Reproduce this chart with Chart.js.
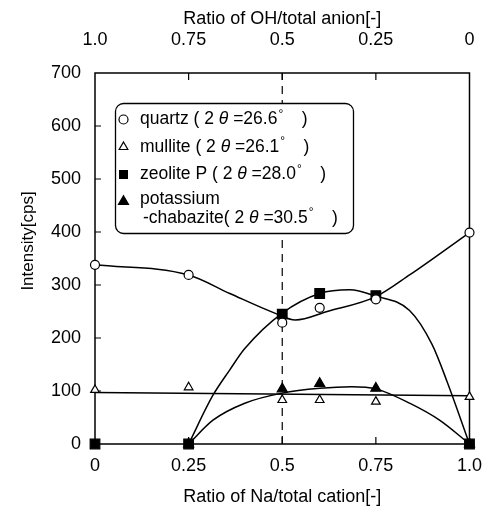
<!DOCTYPE html>
<html>
<head>
<meta charset="utf-8">
<script src="https://cdn.jsdelivr.net/npm/chart.js@4.4.0/dist/chart.umd.min.js"></script>
<style>
  html, body { margin: 0; padding: 0; background: #fff; }
  #wrap { width: 493px; height: 510px; }
</style>
</head>
<body>
<div id="wrap"><canvas id="xrdChart" width="493" height="510"></canvas></div>
<script>
const FONT = '"Liberation Sans", Arial, Helvetica, sans-serif';

// measured points (Na/total cation ratio vs intensity)
const naRatio = [0, 0.25, 0.5, 0.6, 0.75, 1.0];
const quartzCps = [338, 319, 229, 257, 273, 399];
const mulliteCps = [102, 107, 83, 83, 80, 89];
const zeoliteCps = [0, 0, 245, 284, 280, 0];
const chabaziteCps = [null, 0, 104, 114, 105, 0];

// hand drawn trend curves
const quartzFitX = [0, 0.25, 0.36, 0.48, 0.535, 0.62, 0.75, 0.84, 1.0];
const quartzFitY = [338, 319, 284, 247, 234, 250, 278, 319, 399];
const mulliteFitX = [0, 1.0];
const mulliteFitY = [97, 91];
const zeoliteFitX = [0.25, 0.315, 0.36, 0.4, 0.5, 0.6, 0.68, 0.75, 0.84, 0.9, 0.94, 1.0];
const zeoliteFitY = [0, 92, 140, 180, 247, 284, 291, 279, 252, 188, 118, 0];
const chabaziteFitX = [0.25, 0.315, 0.4, 0.5, 0.6, 0.685, 0.75, 0.84, 0.92, 1.0];
const chabaziteFitY = [0, 45, 77, 96, 105, 108, 104, 77, 45, 0];

const xTicks = [0, 0.25, 0.5, 0.75, 1.0];
const yTicks = [0, 100, 200, 300, 400, 500, 600, 700];

const legendRows = [
    { marker: 'openCircle', parts: ['quartz ( 2 ', 'θ', ' =26.6', '°', '    )'] },
    { marker: 'openTriangle', parts: ['mullite ( 2 ', 'θ', ' =26.1', '°', '    )'] },
    { marker: 'square', parts: ['zeolite P ( 2 ', 'θ', ' =28.0', '°', '    )'] },
    { marker: 'triangle', parts: ['potassium'] },
    { marker: null, parts: ['-chabazite( 2 ', 'θ', ' =30.5', '°', '    )'] }
];

function pts(xs, ys) {
    return xs.map((x, i) => ({ x: x, y: ys[i] })).filter(p => p.y !== null);
}

function tickLabel(v) {
    return v === 1 ? '1.0' : String(v);
}

const markerStyles = {
    openCircle: { pointStyle: 'circle', radius: 4.5, fill: '#fff' },
    openTriangle: { pointStyle: 'triangle', radius: 5, fill: '#fff' },
    square: { pointStyle: 'rect', radius: 6.8, fill: '#000' },
    triangle: { pointStyle: 'triangle', radius: 5.8, fill: '#000' }
};

function markerSet(data, key) {
    const m = markerStyles[key];
    return {
        data: data,
        showLine: false,
        clip: false,
        pointStyle: m.pointStyle,
        pointRadius: m.radius,
        pointBackgroundColor: m.fill,
        pointBorderColor: '#000',
        pointBorderWidth: 1.2
    };
}

function curveSet(data) {
    return {
        data: data,
        showLine: true,
        pointRadius: 0,
        borderColor: '#000',
        borderWidth: 1.5,
        cubicInterpolationMode: 'monotone'
    };
}

// frame, inward ticks, y title and the boxed legend
const decorations = {
    id: 'decorations',
    beforeDatasetsDraw(chart) {
        const ctx = chart.ctx;
        const a = chart.chartArea;
        const sx = chart.scales.x;
        const sy = chart.scales.y;
        ctx.save();
        ctx.strokeStyle = '#000';
        ctx.lineWidth = 1.5;
        ctx.strokeRect(a.left, a.top, a.right - a.left, a.bottom - a.top);

        ctx.lineWidth = 1.2;
        ctx.beginPath();
        [0.25, 0.5, 0.75].forEach(v => {
            const px = sx.getPixelForValue(v);
            ctx.moveTo(px, a.bottom); ctx.lineTo(px, a.bottom - 7);
            ctx.moveTo(px, a.top); ctx.lineTo(px, a.top + 7);
        });
        yTicks.slice(1, -1).forEach(v => {
            const py = sy.getPixelForValue(v);
            ctx.moveTo(a.left, py); ctx.lineTo(a.left + 6, py);
        });
        ctx.stroke();

        // y axis title
        ctx.fillStyle = '#000';
        ctx.font = '17px ' + FONT;
        ctx.textAlign = 'center';
        ctx.textBaseline = 'middle';
        ctx.translate(28, 241);
        ctx.rotate(-Math.PI / 2);
        ctx.fillText('Intensity[cps]', 0, 0);
        ctx.restore();
    },
    afterDatasetsDraw(chart) {
        const ctx = chart.ctx;
        // legend box
        ctx.save();
        ctx.beginPath();
        if (ctx.roundRect) ctx.roundRect(115.5, 103.5, 238, 130, 8);
        else ctx.rect(115.5, 103.5, 238, 130);
        ctx.fillStyle = '#fff';
        ctx.fill();
        ctx.strokeStyle = '#000';
        ctx.lineWidth = 1.3;
        ctx.stroke();

        const rowY = [119.5, 147, 174.5, 199, 218];
        ctx.textBaseline = 'middle';
        ctx.textAlign = 'left';
        legendRows.forEach((row, i) => {
            const y = rowY[i];
            if (row.marker) {
                const m = markerStyles[row.marker];
                ctx.fillStyle = m.fill;
                ctx.strokeStyle = '#000';
                ctx.lineWidth = 1.2;
                const my = row.marker === 'triangle' ? y + 2.5 : y;
                Chart.helpers.drawPoint(ctx, {
                    pointStyle: m.pointStyle,
                    radius: row.marker === 'square' ? 5.5 : m.radius,
                    rotation: 0,
                    borderWidth: 1.2
                }, 123.5, my);
            }
            let x = i === 4 ? 143 : 140;
            ctx.fillStyle = '#000';
            row.parts.forEach(t => {
                if (t === 'θ') {
                    ctx.font = 'italic 17.5px ' + FONT;
                    ctx.fillText(t, x, y);
                } else if (t === '°') {
                    ctx.font = '12px ' + FONT;
                    ctx.fillText(t, x + 1, y - 5);
                } else {
                    ctx.font = '17.5px ' + FONT;
                    ctx.fillText(t, x, y);
                }
                x += ctx.measureText(t).width;
            });
        });
        ctx.restore();
    }
};

const ctx = document.getElementById('xrdChart').getContext('2d');
const xrdChart = new Chart(ctx, {
    type: 'scatter',
    data: {
        datasets: [
            markerSet(pts(naRatio, quartzCps), 'openCircle'),
            markerSet(pts(naRatio, mulliteCps), 'openTriangle'),
            markerSet(pts(naRatio, zeoliteCps), 'square'),
            markerSet(pts(naRatio, chabaziteCps), 'triangle'),
            curveSet(pts(quartzFitX, quartzFitY)),
            curveSet(pts(mulliteFitX, mulliteFitY)),
            curveSet(pts(zeoliteFitX, zeoliteFitY)),
            curveSet(pts(chabaziteFitX, chabaziteFitY)),
            {
                data: [{ x: 0.5, y: 0 }, { x: 0.5, y: 700 }],
                showLine: true,
                pointRadius: 0,
                borderColor: '#000',
                borderWidth: 1.2,
                borderDash: [8, 6]
            }
        ]
    },
    options: {
        responsive: false,
        animation: false,
        events: [],
        layout: { padding: { left: 0, right: 21, top: 0, bottom: 0 } },
        plugins: {
            legend: { display: false },
            tooltip: { enabled: false }
        },
        scales: {
            x: {
                type: 'linear',
                position: 'bottom',
                min: 0,
                max: 1,
                afterBuildTicks: s => { s.ticks = xTicks.map(v => ({ value: v })); },
                afterFit: s => { s.height = 66; },
                grid: { display: false, drawTicks: false },
                border: { display: false },
                ticks: {
                    padding: 11,
                    color: '#000',
                    font: { family: FONT, size: 18 },
                    maxRotation: 0,
                    callback: tickLabel
                },
                title: {
                    display: true,
                    text: 'Ratio of Na/total cation[-]',
                    color: '#000',
                    font: { family: FONT, size: 18 },
                    padding: { top: 0, bottom: 2 }
                }
            },
            x2: {
                type: 'linear',
                position: 'top',
                reverse: true,
                min: 0,
                max: 1,
                afterBuildTicks: s => { s.ticks = xTicks.map(v => ({ value: v })); },
                afterFit: s => { s.height = 73; },
                grid: { display: false, drawTicks: false },
                border: { display: false },
                ticks: {
                    padding: 22,
                    color: '#000',
                    font: { family: FONT, size: 18 },
                    maxRotation: 0,
                    callback: tickLabel
                },
                title: {
                    display: true,
                    text: 'Ratio of OH/total anion[-]',
                    color: '#000',
                    font: { family: FONT, size: 18 },
                    padding: { top: 8, bottom: 0 }
                }
            },
            y: {
                type: 'linear',
                min: 0,
                max: 700,
                afterBuildTicks: s => { s.ticks = yTicks.map(v => ({ value: v })); },
                afterFit: s => { s.width = 95; },
                grid: { display: false, drawTicks: false },
                border: { display: false },
                ticks: {
                    padding: 14,
                    color: '#000',
                    font: { family: FONT, size: 18 }
                }
            }
        }
    },
    plugins: [decorations]
});
</script>
</body>
</html>
